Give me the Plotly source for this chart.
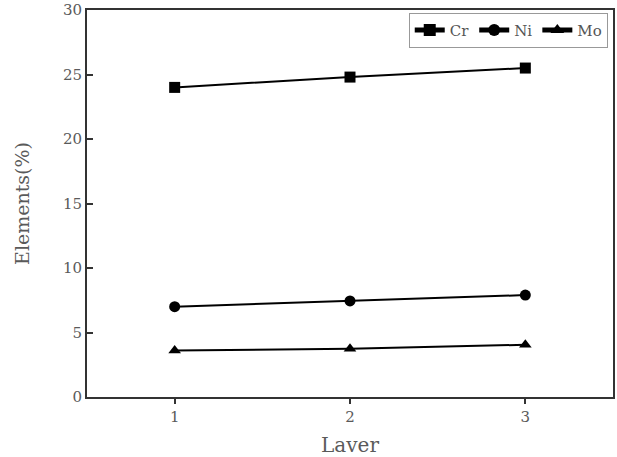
import plotly.graph_objects as go

layers = [1, 2, 3]
cr = [24.0, 24.8, 25.5]
ni = [7.0, 7.45, 7.9]
mo = [3.6, 3.75, 4.05]
y_ticks = [0, 5, 10, 15, 20, 25, 30]

FONT = "DejaVu Serif, Liberation Serif, serif"
TXT = "#5a5a5a"

fig = go.Figure()
for name, vals, sym in [("Cr", cr, "square"), ("Ni", ni, "circle"), ("Mo", mo, "triangle-up")]:
    fig.add_trace(go.Scatter(
        x=layers, y=vals, name=name, mode="lines+markers",
        line=dict(color="black", width=2),
        marker=dict(symbol=sym, size=11, color="black"),
    ))

fig.update_layout(
    width=617, height=457,
    margin=dict(l=87, r=4, t=10, b=60),
    paper_bgcolor="white", plot_bgcolor="white",
    font=dict(family=FONT, color=TXT, size=14),
    showlegend=True,
    legend=dict(
        orientation="h", x=0.99, y=0.993, xanchor="right", yanchor="top",
        bordercolor="#999999", borderwidth=1, bgcolor="white",
        font=dict(size=15, color="#555555"), tracegroupgap=0,
        itemsizing="constant",
    ),
    xaxis=dict(
        range=[0.5, 3.5], tickvals=layers, ticks="outside", ticklen=5, tickwidth=1.5,
        tickcolor="#333333", showline=True, linecolor="#333333", linewidth=2, mirror=True,
        showgrid=False, zeroline=False, automargin=False,
        title=dict(text="Laver", font=dict(size=20, color=TXT), standoff=20),
        tickfont=dict(size=15, color=TXT),
    ),
    yaxis=dict(
        range=[0, 30], tickvals=y_ticks, ticks="inside", ticklen=6, tickwidth=1.5,
        tickcolor="#333333", showline=True, linecolor="#333333", linewidth=2, mirror=True,
        showgrid=False, zeroline=False, automargin=False,
        title=dict(text="Elements(%)", font=dict(size=19, color=TXT), standoff=28),
        tickfont=dict(size=15, color=TXT),
    ),
)

fig.write_html("out.html")
